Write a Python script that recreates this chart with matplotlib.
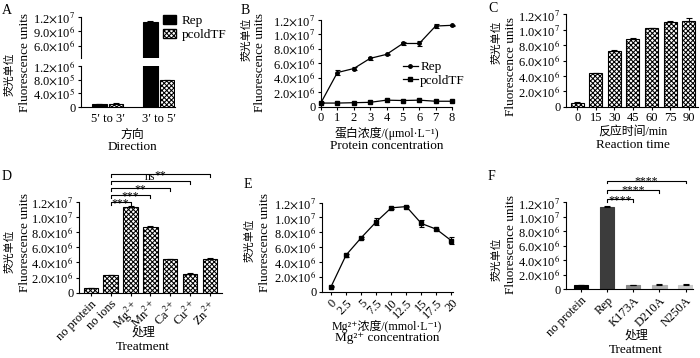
import numpy as np
import matplotlib
matplotlib.use('Agg')
import matplotlib.pyplot as plt
from matplotlib.patches import Patch
from matplotlib.lines import Line2D

# ------------------------- data -------------------------
dir_labels = ['5′ to 3′', '3′ to 5′']
a_rep = [0.9e5, 1.10e7]
a_rep_err = [0.1e5, 1.0e5]
a_pcold = [1.0e5, 7.8e5]
a_pcold_err = [0.2e5, 0.2e5]

conc_labels = ['0', '1', '2', '3', '4', '5', '6', '7', '8']
b_rep = [0.55e6, 4.7e6, 5.25e6, 6.65e6, 7.2e6, 8.7e6, 8.7e6, 11.1e6, 11.2e6]
b_rep_err = [0.1e6, 0.3e6, 0.25e6, 0.2e6, 0.1e6, 0.15e6, 0.35e6, 0.3e6, 0.05e6]
b_pcold = [0.5e6, 0.5e6, 0.55e6, 0.6e6, 0.9e6, 0.85e6, 0.9e6, 0.75e6, 0.75e6]

time_labels = ['0', '15', '30', '45', '60', '75', '90']
c_vals = [0.52e6, 4.35e6, 7.3e6, 8.85e6, 10.2e6, 11.0e6, 11.2e6]
c_err = [0.05e6, 0.1e6, 0.05e6, 0.1e6, 0.05e6, 0.15e6, 0.3e6]

d_labels = ['no protein', 'no ions', 'Mg$^{2+}$', 'Mn$^{2+}$', 'Ca$^{2+}$', 'Cu$^{2+}$', 'Zn$^{2+}$']
d_vals = [0.57e6, 2.3e6, 11.3e6, 8.7e6, 4.4e6, 2.5e6, 4.5e6]
d_err = [0.05e6, 0.1e6, 0.1e6, 0.1e6, 0.1e6, 0.15e6, 0.1e6]
d_sig_from = [1, 1, 1, 1, 1]
d_sig_to = [2, 3, 4, 5, 6]
d_sig_text = ['***', '***', '**', 'ns', '**']

mg_labels = ['0', '2.5', '5', '7.5', '10', '12.5', '15', '17.5', '20']
e_vals = [0.67e6, 4.93e6, 7.25e6, 9.4e6, 11.28e6, 11.45e6, 9.18e6, 8.4e6, 6.85e6]
e_err = [0.05e6, 0.2e6, 0.1e6, 0.45e6, 0.1e6, 0.05e6, 0.5e6, 0.1e6, 0.45e6]

f_labels = ['no protein', 'Rep', 'K173A', 'D210A', 'N250A']
f_vals = [0.55e6, 11.4e6, 0.55e6, 0.6e6, 0.6e6]
f_err = [0.02e6, 0.15e6, 0.05e6, 0.03e6, 0.03e6]
f_colors = ['#000000', '#3c3c3c', '#8a8a8a', '#b2b2b2', '#cbcbcb']
f_sig_from = [1, 1, 1]
f_sig_to = [2, 3, 4]
f_sig_text = ['****', '****', '****']

# ------------------------- style -------------------------
plt.rcParams['font.family'] = ['Liberation Serif', 'DejaVu Serif', 'Noto Sans CJK SC']
plt.rcParams['mathtext.fontset'] = 'stix'
plt.rcParams['font.size'] = 9
plt.rcParams['hatch.linewidth'] = 0.75
plt.rcParams['axes.linewidth'] = 0.8
for k in ('xtick', 'ytick'):
    plt.rcParams[k + '.major.width'] = 0.8
    plt.rcParams[k + '.major.size'] = 2.5
    plt.rcParams[k + '.major.pad'] = 1.5
    plt.rcParams[k + '.labelsize'] = 9

W, H = 700, 358
fig = plt.figure(figsize=(W / 100, H / 100), dpi=100)
HATCH = 'xxxxxxx'


def add_ax(l, t, r, b):
    ax = fig.add_axes([l / W, 1 - b / H, (r - l) / W, (b - t) / H])
    ax.spines['top'].set_visible(False)
    ax.spines['right'].set_visible(False)
    ax.patch.set_alpha(0)
    return ax


def ftext(x, y, s, **kw):
    kw.setdefault('ha', 'center')
    kw.setdefault('va', 'center')
    fig.text(x / W, 1 - y / H, s, **kw)


def sci(v):
    if v == 0:
        return '0'
    e = int(np.floor(np.log10(v) + 1e-9))
    m = v / 10 ** e
    return r'%.1f$\times$10$^{%d}$' % (m, e)


def set_yticks(ax, ticks):
    ax.set_yticks(ticks)
    ax.set_yticklabels([sci(t) for t in ticks])


def px2data(ax, px):
    bb = ax.get_position()
    hpx = bb.height * H
    y0, y1 = ax.get_ylim()
    return px * (y1 - y0) / hpx


def bracket(ax, x1, x2, y, txt):
    tk = px2data(ax, 2.5)
    ax.plot([x1, x1, x2, x2], [y - tk, y, y, y - tk], color='k', lw=0.8, clip_on=False)
    off = 0.8 if txt == 'ns' else -2.6
    ax.annotate(txt, xy=((x1 + x2) / 2, y), xytext=(0, off), textcoords='offset points',
                ha='center', va='baseline', fontsize=8.5, annotation_clip=False)


def ylabels(xc, xe, yc, ye):
    ftext(xc, yc, '荧光单位', rotation=90, fontsize=7.8)
    ftext(xe, ye, 'Fluorescence units', rotation=90, fontsize=9.5)


def xlabels(x, y1, s1, y2, s2):
    ftext(x, y1, s1, fontsize=8.6)
    ftext(x, y2, s2, fontsize=9.5)


eb = dict(fmt='none', ecolor='k', elinewidth=0.8, capsize=2, capthick=0.8)

# ------------------------- A -------------------------
axAt = add_ax(81, 17, 175, 58)
axAb = add_ax(81, 66, 175, 107)
xa = np.arange(len(dir_labels))
off, bw = 0.16, 0.28
for ax in (axAt, axAb):
    ax.bar(xa - off, a_rep, bw, color='k', edgecolor='k', lw=0.8)
    ax.bar(xa + off, a_pcold, bw, color='white', edgecolor='k', hatch=HATCH, lw=0.8)
    ax.errorbar(xa - off, a_rep, yerr=[np.zeros(2), a_rep_err], **eb)
    ax.errorbar(xa + off, a_pcold, yerr=[np.zeros(2), a_pcold_err], **eb)
    ax.set_xlim(-0.52, 1.32)
axAt.set_ylim(3.4e6, 1.2e7)
axAt.spines['bottom'].set_visible(False)
axAt.set_xticks([])
set_yticks(axAt, [6e6, 9e6, 1.2e7])
axAb.set_ylim(0, 1.2e6)
set_yticks(axAb, [0, 4e5, 8e5, 1.2e6])
axAb.set_xticks(xa)
axAb.set_xticklabels(dir_labels)
axAb.tick_params(axis='x', length=0, pad=4)
fig.legend([Patch(facecolor='k', edgecolor='k'),
            Patch(facecolor='white', edgecolor='k', hatch=HATCH)],
           ['Rep', 'pcoldTF'], loc='upper left', bbox_to_anchor=(163 / W, 1 - 15 / H),
           frameon=False, handlelength=1.0, handleheight=0.7, handletextpad=0.4,
           labelspacing=0.15, fontsize=9.5, borderaxespad=0, borderpad=0)
ylabels(10, 25, 74, 62)
xlabels(132, 135, '方向', 147, 'Direction')
ftext(7, 11, 'A', fontsize=10)

# ------------------------- B -------------------------
axB = add_ax(321, 19.5, 452, 106.7)
xb = np.arange(len(conc_labels))
axB.errorbar(xb, b_rep, yerr=b_rep_err, color='k', lw=0.9, marker='o', ms=2.5,
             capsize=1.8, elinewidth=0.8, capthick=0.8, clip_on=False, label='Rep')
axB.plot(xb, b_pcold, color='k', lw=0.9, marker='s', ms=2.5, clip_on=False, label='pcoldTF')
axB.set_xlim(0, 8)
axB.set_ylim(0, 1.2e7)
axB.set_xticks(xb)
axB.set_xticklabels(conc_labels)
set_yticks(axB, np.arange(0, 1.21e7, 2e6))
fig.legend([Line2D([], [], color='k', lw=0.9, marker='o', ms=2.5),
            Line2D([], [], color='k', lw=0.9, marker='s', ms=2.5)],
           ['Rep', 'pcoldTF'], loc='upper left', bbox_to_anchor=(403 / W, 1 - 61 / H),
           frameon=False, handlelength=1.1, handletextpad=0.2,
           labelspacing=0.1, fontsize=9.5, borderaxespad=0, borderpad=0)
ylabels(247, 260, 39, 62)
xlabels(387, 133, '蛋白浓度/(μmol·L⁻¹)', 146, 'Protein concentration')
ftext(245, 10, 'B', fontsize=10)

# ------------------------- C -------------------------
axC = add_ax(566, 14.5, 698, 106.7)
xc = np.arange(len(time_labels))
axC.bar(xc, c_vals, 0.7, color='white', edgecolor='k', hatch=HATCH, lw=0.8)
axC.errorbar(xc, c_vals, yerr=[np.zeros(len(xc)), c_err], **eb)
axC.set_xlim(-0.6, 6.5)
axC.set_ylim(0, 1.2e7)
axC.set_xticks(xc)
axC.set_xticklabels(time_labels)
set_yticks(axC, np.arange(0, 1.21e7, 2e6))
ylabels(497, 511, 42, 66)
xlabels(633, 132, '反应时间/min', 145, 'Reaction time')
ftext(493, 9, 'C', fontsize=10)

# ------------------------- D -------------------------
axD = add_ax(79, 201.7, 221.7, 292.7)
xd = np.arange(len(d_labels))
axD.bar(xd, d_vals, 0.73, color='white', edgecolor='k', hatch=HATCH, lw=0.8)
axD.errorbar(xd, d_vals, yerr=[np.zeros(len(xd)), d_err], **eb)
axD.set_xlim(-0.6, 6.6)
axD.set_ylim(0, 1.2e7)
axD.set_xticks(xd)
axD.set_xticklabels(d_labels, rotation=45, ha='right', va='top', rotation_mode='anchor')
set_yticks(axD, np.arange(0, 1.21e7, 2e6))
base, step = px2data(axD, 292.7 - 202.3), px2data(axD, 7.0)
for i, (a, b, t) in enumerate(zip(d_sig_from, d_sig_to, d_sig_text)):
    bracket(axD, a, b, base + i * step, t)
ylabels(10, 25, 251, 243)
xlabels(143, 333, '处理', 347, 'Treatment')
ftext(7, 177, 'D', fontsize=10)

# ------------------------- E -------------------------
axE = add_ax(322, 202.5, 453, 291.7)
xe = np.arange(len(mg_labels))
axE.errorbar(xe, e_vals, yerr=e_err, color='k', lw=0.9, marker='s', ms=2.2,
             capsize=1.8, elinewidth=0.8, capthick=0.8, clip_on=False)
axE.set_xlim(-0.6, 8.1)
axE.set_ylim(0, 1.2e7)
axE.set_xticks(xe)
axE.set_xticklabels(mg_labels, rotation=45, ha='right', va='top', rotation_mode='anchor')
set_yticks(axE, np.arange(0, 1.21e7, 2e6))
ylabels(250, 265, 240, 243)
xlabels(387, 326, 'Mg²⁺浓度/(mmol·L⁻¹)', 338, 'Mg²⁺ concentration')
ftext(248, 185, 'E', fontsize=10)

# ------------------------- F -------------------------
axF = add_ax(566, 202.3, 693, 289)
xf = np.arange(len(f_labels))
axF.bar(xf, f_vals, 0.55, color=f_colors, edgecolor=f_colors, lw=0.8)
axF.errorbar(xf, f_vals, yerr=[np.zeros(len(xf)), f_err], **eb)
axF.set_xlim(-0.57, 4.28)
axF.set_ylim(0, 1.2e7)
axF.set_xticks(xf)
axF.set_xticklabels(f_labels, rotation=45, ha='right', va='top', rotation_mode='anchor')
set_yticks(axF, np.arange(0, 1.21e7, 2e6))
base, step = px2data(axF, 289 - 199.3), px2data(axF, 9.2)
for i, (a, b, t) in enumerate(zip(f_sig_from, f_sig_to, f_sig_text)):
    bracket(axF, a, b, base + i * step, t)
ylabels(497, 511, 259, 245)
xlabels(636, 336, '处理', 350, 'Treatment')
ftext(491, 177, 'F', fontsize=10)

fig.savefig('out.png', dpi=100)
